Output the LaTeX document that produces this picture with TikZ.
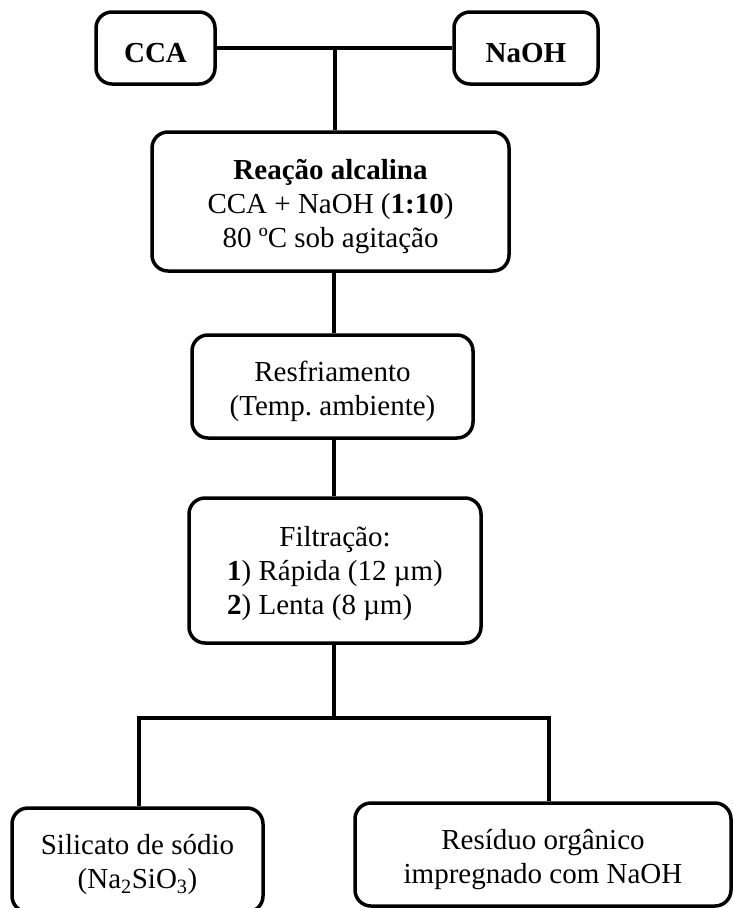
\documentclass[tikz,border=0pt]{standalone}
\usepackage{fontspec}
\setmainfont{Liberation Serif}
\frenchspacing
\newcommand\mystrut{\rule{0pt}{30pt}}
\begin{document}
\begin{tikzpicture}[x=1pt,y=-1pt,
  flowbox/.style={draw, line width=3.5pt, rounded corners=16pt, align=center,
    inner sep=0pt, font=\fontsize{29}{34}\selectfont\frenchspacing},
  conn/.style={line width=3.5pt}]
\useasboundingbox (0,0) rectangle (732,908);
\node[flowbox, minimum width=119pt, minimum height=72pt] (cca) at (155.5,48) {\mystrut\textbf{CCA}};
\node[flowbox, minimum width=144pt, minimum height=72pt] (naoh) at (526,48) {\mystrut\textbf{NaOH}};
\node[flowbox, minimum width=357pt, minimum height=139pt] (reac) at (330.5,201.5)
  {\mystrut\textbf{Reação alcalina}\\CCA + NaOH (\textbf{1:10})\\80 ºC sob agitação};
\node[flowbox, minimum width=281pt, minimum height=103pt] (resf) at (332.5,386.5)
  {\mystrut Resfriamento\\(Temp. ambiente)};
\node[flowbox, minimum width=292pt, minimum height=145pt] (filt) at (335,570.5)
  {\mystrut Filtração:\\\begin{tabular}[t]{@{}l@{}}\textbf{1}) Rápida (12 µm)\\\textbf{2}) Lenta (8 µm)\end{tabular}};
\node[flowbox, minimum width=251pt, minimum height=104pt] (sil) at (137.5,860)
  {\mystrut Silicato de sódio\\(Na\textsubscript{2}SiO\textsubscript{3})};
\node[flowbox, minimum width=376pt, minimum height=103pt] (res) at (543,854.5)
  {\mystrut Resíduo orgânico\\impregnado com NaOH};
\coordinate (j1) at (335,48);
\coordinate (j2) at (334,718);
\coordinate (jl) at (139,718);
\coordinate (jr) at (549,718);
\draw[conn] (cca.east) -- (naoh.west);
\draw[conn] (j1) -- (j1 |- reac.north);
\draw[conn] (resf.north -| j2) -- (j2 |- reac.south);
\draw[conn] (filt.north -| j2) -- (j2 |- resf.south);
\draw[conn] (j2 |- filt.south) -- (j2);
\draw[conn] (jl |- sil.north) -- (jl) -- (jr) -- (jr |- res.north);
\end{tikzpicture}
\end{document}
